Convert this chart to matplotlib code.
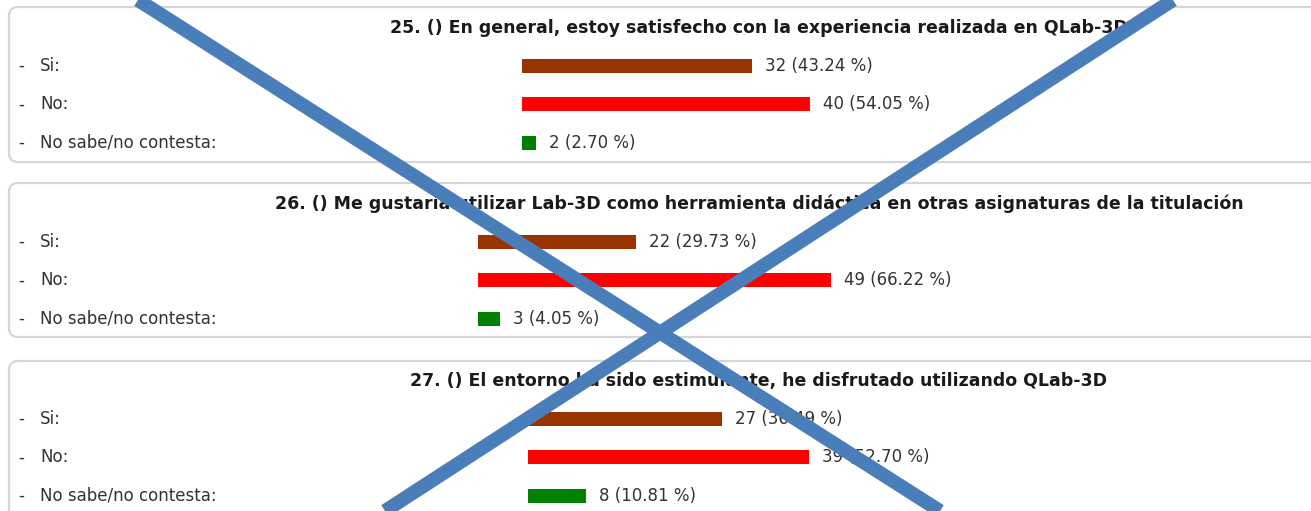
import matplotlib
matplotlib.use("Agg")
import matplotlib.pyplot as plt
from matplotlib.patches import FancyBboxPatch
from matplotlib.transforms import blended_transform_factory

# ---- data ----
titles = [
    "25. () En general, estoy satisfecho con la experiencia realizada en QLab-3D",
    "26. () Me gustaría utilizar Lab-3D como herramienta didáctica en otras asignaturas de la titulación",
    "27. () El entorno ha sido estimulante, he disfrutado utilizando QLab-3D",
]
categories = ["Si:", "No:", "No sabe/no contesta:"]
counts_q25 = [32, 40, 2]
counts_q26 = [22, 49, 3]
counts_q27 = [27, 39, 8]
pct_q25 = [43.24, 54.05, 2.70]
pct_q26 = [29.73, 66.22, 4.05]
pct_q27 = [36.49, 52.70, 10.81]
bar_colors = ["#993300", "#ff0000", "#008000"]

counts = [counts_q25, counts_q26, counts_q27]
pcts = [pct_q25, pct_q26, pct_q27]

# ---- layout (pixels) ----
W, H = 1311, 511
PX_PER_UNIT = 7.2
panel_top = [7, 183, 361]
panel_bottom = [162, 337, 518]
title_y = [28, 204, 381]
first_row_y = [66, 242, 419]
row_step = 38.3
bar_start_x = [522, 478, 528]
title_cx = 759

fig = plt.figure(figsize=(W / 100, H / 100), dpi=100)
fig.patch.set_facecolor("white")

bg = fig.add_axes([0, 0, 1, 1])
bg.set_xlim(0, W)
bg.set_ylim(H, 0)
bg.axis("off")

txt_color = "#333333"
font = "DejaVu Sans"

for p in range(3):
    # panel frame
    box = FancyBboxPatch((9, panel_top[p]), 1330, panel_bottom[p] - panel_top[p],
                         boxstyle="round,pad=0,rounding_size=9",
                         facecolor="white", edgecolor="#d6d6d6", lw=1.6, zorder=1)
    bg.add_patch(box)
    bg.text(title_cx, title_y[p], titles[p], ha="center", va="center",
            fontsize=12.5, fontweight="bold", color="#1a1a1a", family=font, zorder=3)

    y0 = first_row_y[p] - row_step / 2
    y1 = y0 + 3 * row_step
    x0 = bar_start_x[p]
    ax = fig.add_axes([x0 / W, (H - y1) / H, (W - x0) / W, (y1 - y0) / H])
    ax.set_xlim(0, (W - x0) / PX_PER_UNIT)
    ax.set_ylim(2.5, -0.5)
    ax.axis("off")
    ax.patch.set_alpha(0)
    ypos = list(range(len(categories)))
    ax.barh(ypos, counts[p], height=0.37, color=bar_colors, left=0)
    for i, (v, pc) in enumerate(zip(counts[p], pcts[p])):
        ax.annotate(f"{v} ({pc:.2f} %)", xy=(v, i), xytext=(13, 0),
                    textcoords="offset pixels", va="center", ha="left",
                    fontsize=12, color=txt_color, family=font)
    tr = blended_transform_factory(bg.transData, ax.transData)
    for i, c in enumerate(categories):
        fig.text(18, i, "-", transform=tr, va="center", ha="left",
                 fontsize=12, color=txt_color, family=font)
        fig.text(40, i, c, transform=tr, va="center", ha="left",
                 fontsize=12, color=txt_color, family=font)

# big blue cross overlay
ov = fig.add_axes([0, 0, 1, 1], zorder=10)
ov.set_xlim(0, W)
ov.set_ylim(H, 0)
ov.axis("off")
ov.patch.set_alpha(0)
ov.plot([138, 940], [0, H], color="#4a7ebb", lw=10, solid_capstyle="butt")
ov.plot([1173, 385], [0, H], color="#4a7ebb", lw=10, solid_capstyle="butt")

fig.savefig("out.png", dpi=100)
